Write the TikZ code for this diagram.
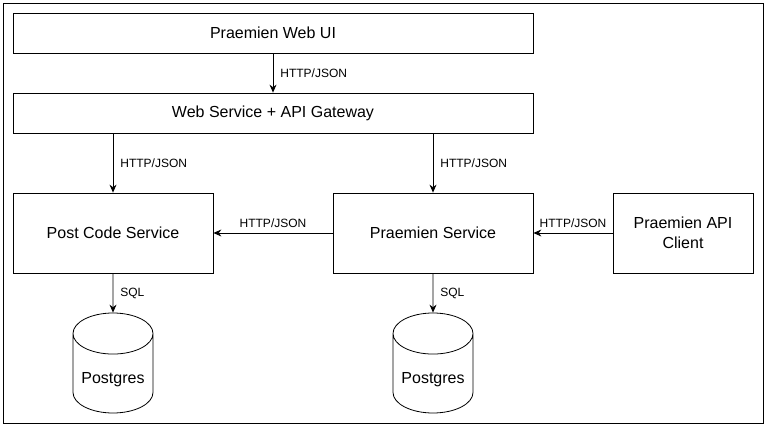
\documentclass[tikz,border=0pt]{standalone}
\usepackage{fontspec}
\setmainfont{Liberation Sans}
\usetikzlibrary{shapes.geometric, arrows.meta, positioning}

\begin{document}
\begin{tikzpicture}[
    x=1pt, y=-1pt,
    box/.style={draw, line width=0.8pt, font=\fontsize{16}{19.5}\selectfont, align=center, inner sep=0pt},
    db/.style={draw, line width=0.8pt, cylinder, shape border rotate=90, aspect=0.65, minimum width=80pt, minimum height=100pt, font=\fontsize{16}{19}\selectfont, text height=23.5pt, inner sep=0pt},
    link/.style={-{Stealth[length=8pt, width=7pt]}, line width=0.8pt},
    lbl/.style={font=\fontsize{12}{14}\selectfont, inner sep=0pt},
]
    \useasboundingbox (0,0) rectangle (767,427);
    \draw[line width=0.8pt] (3,3) rectangle (763,423);

    \node[box, minimum width=520pt, minimum height=40pt] (ui) at (273, 33) {Praemien Web UI};
    \node[box, minimum width=520pt, minimum height=40pt] (gw) at (273, 113) {Web Service + API Gateway};

    \node[box, minimum width=200pt, minimum height=80pt] (pcs) at (113, 233) {Post Code Service};
    \node[box, minimum width=200pt, minimum height=80pt] (ps) at (433, 233) {Praemien Service};
    \node[box, minimum width=140pt, minimum height=80pt] (cli) at (683, 233) {Praemien API\\Client};

    \node[db, anchor=shape center] (db1) at (113, 363) {Postgres};
    \node[db, anchor=shape center] (db2) at (433, 363) {Postgres};

    \draw[link] (ui) -- (gw) node[lbl, midway, right=7pt] {HTTP/JSON};
    \draw[link] (gw.south -| pcs) -- (pcs) node[lbl, midway, right=7pt] {HTTP/JSON};
    \draw[link] (gw.south -| ps) -- (ps) node[lbl, midway, right=7pt] {HTTP/JSON};
    \draw[link] (ps) -- (pcs) node[lbl, midway, above=5pt] {HTTP/JSON};
    \draw[link] (cli) -- (ps) node[lbl, midway, above=5pt] {HTTP/JSON};
    \draw[link] (pcs) -- (db1.north) node[lbl, midway, right=7pt] {SQL};
    \draw[link] (ps) -- (db2.north) node[lbl, midway, right=7pt] {SQL};
\end{tikzpicture}
\end{document}
